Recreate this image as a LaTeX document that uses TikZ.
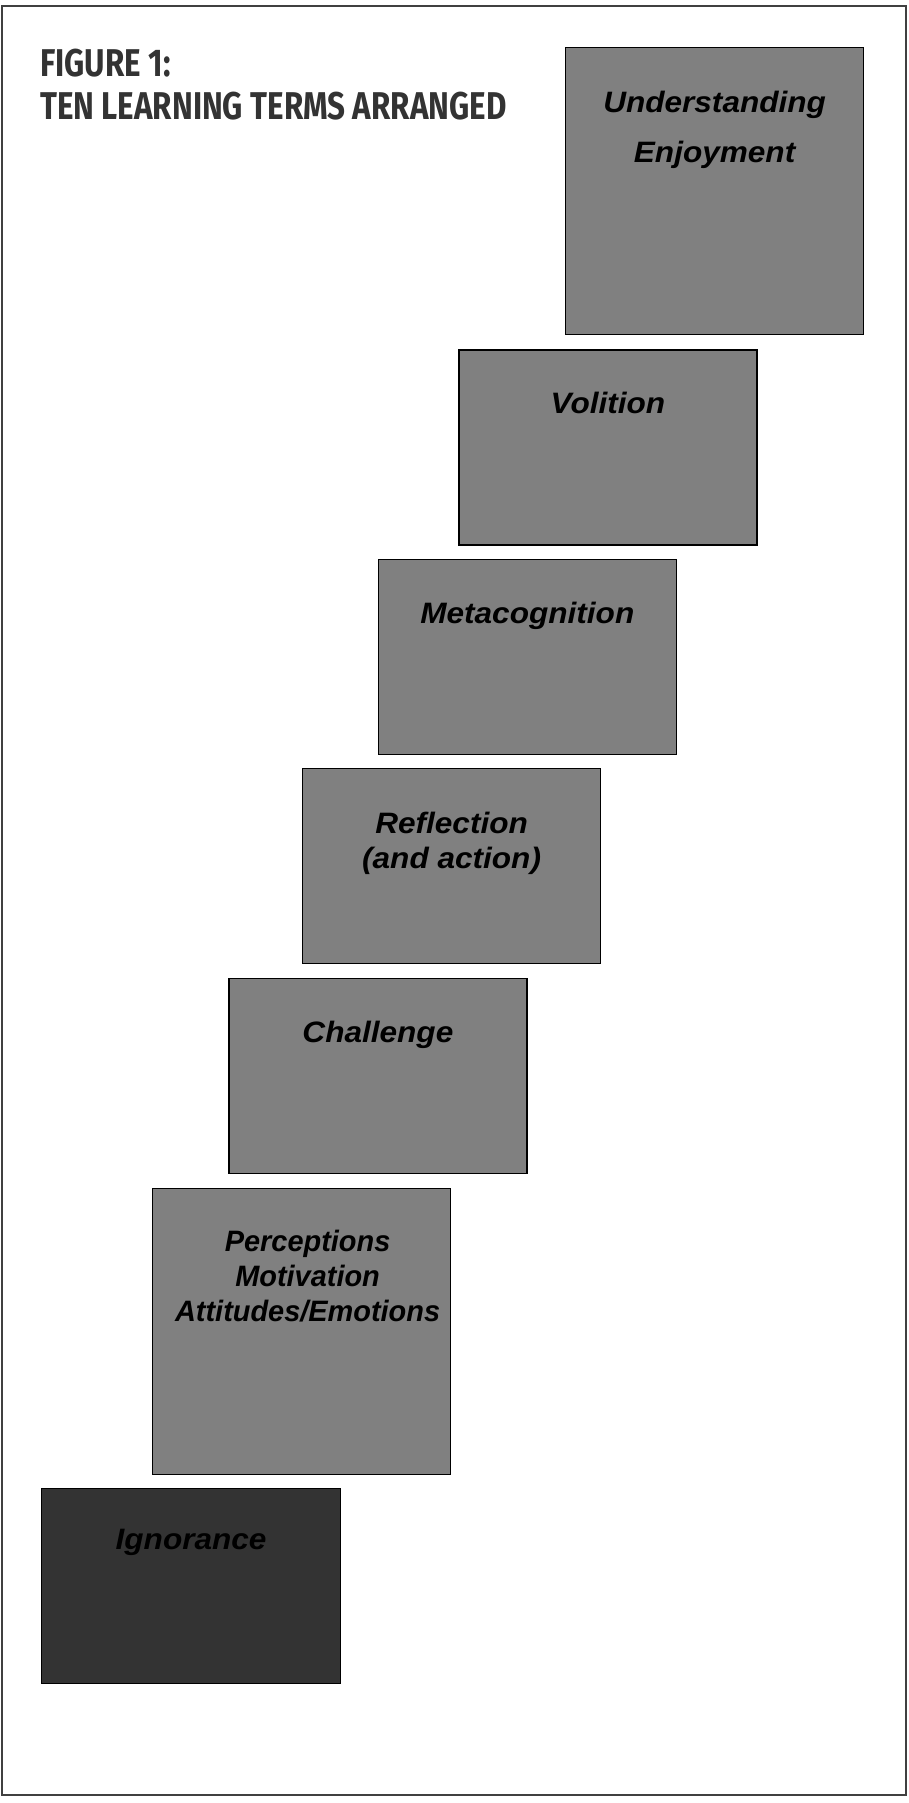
\documentclass[tikz,border=0pt]{standalone}
\usepackage{fontspec}
\newfontfamily\titlefont[FakeStretch=0.81]{Fira Sans}
\newfontfamily\labelfont[FakeStretch=1.07]{Liberation Sans}
\newfontfamily\labelfontn[FakeStretch=0.98]{Liberation Sans}
\definecolor{boxgray}{HTML}{808080}
\definecolor{darkbox}{HTML}{333333}
\definecolor{framegray}{HTML}{404040}
\definecolor{titlegray}{HTML}{333333}
\tikzset{
  stepbox/.style={draw=black, line width=1.2pt, fill=boxgray, minimum width=298pt, inner sep=0pt, anchor=north west},
  darkstep/.style={stepbox, fill=darkbox},
  lbl/.style={align=center, inner sep=0pt, anchor=base, text=black, font=\labelfont\bfseries\itshape\fontsize{29.5}{35}\selectfont},
}
\begin{document}
\begin{tikzpicture}[x=1pt,y=-1pt]
\useasboundingbox (0,0) rectangle (909,1803);
\draw[framegray, line width=2.8pt] (2,6) rectangle (906,1795);
\node[anchor=base west, inner sep=0pt, text=titlegray, align=left,
      font=\titlefont\bfseries\fontsize{38.7}{43.3}\selectfont] (title) at (40,120)
      {FIGURE 1:\\TEN LEARNING TERMS ARRANGED};
\node[stepbox, minimum height=287pt] (und) at (565,47) {};
\node[stepbox, minimum height=195pt] (vol) at (458.3,349.3) {};
\node[stepbox, minimum height=195pt] (meta) at (377.7,559) {};
\node[stepbox, minimum height=195pt] (refl) at (302,767.7) {};
\node[stepbox, minimum height=195pt] (chal) at (228.3,977.7) {};
\node[stepbox, minimum height=286pt] (perc) at (152,1188) {};
\node[darkstep, minimum width=299pt, minimum height=195pt] (ign) at (41,1488) {};
\node[lbl, font=\labelfont\bfseries\itshape\fontsize{29.5}{50}\selectfont] (undL) at ([yshift=-116pt]und.north) {Understanding\\Enjoyment};
\node[lbl] (volL) at ([yshift=-64pt]vol.north) {Volition};
\node[lbl] (metaL) at ([yshift=-64.3pt]meta.north) {Metacognition};
\node[lbl, font=\labelfont\bfseries\itshape\fontsize{29.5}{35}\selectfont] (reflL) at ([yshift=-100.6pt]refl.north) {Reflection\\(and action)};
\node[lbl] (chalL) at ([yshift=-65pt]chal.north) {Challenge};
\node[lbl, font=\labelfontn\bfseries\itshape\fontsize{29.5}{35.3}\selectfont] (percL) at ([xshift=6pt,yshift=-133.7pt]perc.north) {Perceptions\\Motivation\\Attitudes/Emotions};
\node[lbl] (ignL) at ([yshift=-61.3pt]ign.north) {Ignorance};
\end{tikzpicture}
\end{document}
